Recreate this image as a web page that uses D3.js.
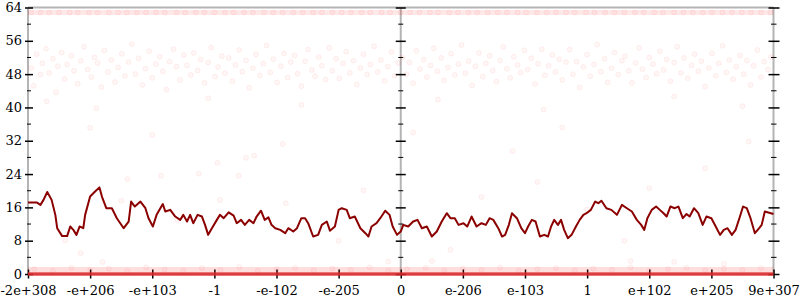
<!DOCTYPE html>
<html>
<head>
<meta charset="utf-8">
<script src="https://cdn.jsdelivr.net/npm/d3@7"></script>
<style>
body { margin: 0; background: #fff; }
svg text { font-family: "DejaVu Serif", serif; font-size: 13px; }
</style>
</head>
<body>
<div id="chart"></div>
<script>
// x positions are in "tick units": -6 .. 6, one unit per labelled tick
var xTickVals = [-6, -5, -4, -3, -2, -1, 0, 1, 2, 3, 4, 5, 6];
var xTickLabels = ["-2e+308", "-e+206", "-e+103", "-1", "-e-102", "-e-205", "0",
    "e-206", "e-103", "1", "e+102", "e+205", "9e+307"];
var yMajor = [0, 8, 16, 24, 32, 40, 48, 56, 64];
var yMinor = [4, 12, 20, 28, 36, 44, 52, 60];

// running average (dark red line)
var avgX = [-6.0, -5.86, -5.80, -5.75, -5.69, -5.62, -5.56, -5.53, -5.45, -5.37, -5.32, -5.27, -5.22, -5.17, -5.11, -5.08,
    -5.00, -4.92, -4.85, -4.81, -4.74, -4.65, -4.57, -4.46, -4.38, -4.34, -4.28, -4.19, -4.11, -4.06, -3.99, -3.93,
    -3.83, -3.79, -3.71, -3.63, -3.55, -3.50, -3.44, -3.39, -3.34, -3.27, -3.20, -3.15, -3.10, -3.04, -2.96, -2.91,
    -2.85, -2.77, -2.69, -2.64, -2.57, -2.51, -2.44, -2.37, -2.32, -2.25, -2.19, -2.13, -2.08, -2.02, -1.94, -1.86,
    -1.81, -1.73, -1.67, -1.60, -1.54, -1.49, -1.41, -1.33, -1.27, -1.19, -1.14, -1.06, -1.00, -0.95, -0.87, -0.82,
    -0.74, -0.65, -0.57, -0.52, -0.47, -0.39, -0.33, -0.25, -0.18, -0.13, -0.06, 0.0, 0.04, 0.12, 0.20, 0.27, 0.34,
    0.42, 0.50, 0.58, 0.66, 0.74, 0.80, 0.87, 0.93, 1.01, 1.07, 1.14, 1.22, 1.30, 1.37, 1.43, 1.49, 1.57, 1.63, 1.68,
    1.74, 1.79, 1.87, 1.94, 2.00, 2.05, 2.11, 2.17, 2.24, 2.31, 2.37, 2.42, 2.47, 2.53, 2.58, 2.63, 2.69, 2.75, 2.82,
    2.88, 2.94, 2.99, 3.06, 3.13, 3.18, 3.23, 3.31, 3.39, 3.48, 3.56, 3.64, 3.72, 3.80, 3.87, 3.92, 3.97, 4.04, 4.11,
    4.17, 4.23, 4.28, 4.34, 4.41, 4.47, 4.54, 4.60, 4.65, 4.72, 4.79, 4.86, 4.92, 5.00, 5.07, 5.14, 5.20, 5.26, 5.33,
    5.39, 5.46, 5.51, 5.57, 5.63, 5.70, 5.77, 5.81, 5.86, 6.0];
var avgY = [17.2, 17.2, 16.6, 17.8, 19.7, 17.8, 14.2, 11.0, 9.1, 9.1, 11.4, 10.6, 9.4, 11.4, 11.0, 14.2,
    18.6, 19.8, 20.8, 18.6, 15.8, 15.8, 13.4, 11.0, 12.6, 17.4, 16.2, 17.4, 15.8, 13.4, 11.4, 14.2,
    16.8, 15.0, 15.4, 13.8, 13.0, 14.2, 12.6, 14.2, 12.2, 14.2, 13.8, 11.8, 9.4, 11.0, 13.0, 14.2,
    13.4, 14.8, 14.0, 12.2, 13.0, 11.8, 13.0, 12.2, 13.8, 15.2, 13.0, 13.6, 11.8, 11.0, 10.6, 9.8,
    11.0, 10.2, 11.0, 13.4, 13.4, 12.2, 9.0, 9.4, 11.8, 12.6, 10.4, 11.4, 15.4, 15.8, 15.4, 13.4,
    13.8, 11.0, 9.8, 9.0, 11.4, 12.2, 13.4, 15.2, 14.2, 11.4, 9.4, 10.2, 11.8, 11.4, 12.6, 13.0, 11.0,
    11.4, 9.0, 10.2, 12.6, 14.6, 13.4, 13.4, 11.8, 12.2, 11.4, 13.8, 11.4, 12.2, 11.8, 13.4, 13.0, 11.0, 9.0, 9.4, 11.8,
    14.6, 13.4, 11.0, 9.8, 11.4, 13.0, 12.6, 9.0, 9.4, 9.0, 11.4, 13.0, 11.8, 13.0, 10.6, 8.6, 9.4, 11.4, 13.0,
    14.2, 14.6, 15.4, 17.4, 17.0, 17.6, 15.8, 15.4, 14.2, 16.6, 15.8, 15.0, 13.0, 11.8, 10.6, 13.4, 15.4, 16.2, 15.4,
    14.6, 13.8, 16.2, 15.8, 16.2, 13.4, 14.4, 13.8, 15.8, 14.6, 11.8, 13.8, 13.4, 11.4, 9.4, 10.6, 11.0, 9.4, 10.6,
    13.8, 16.2, 15.8, 13.4, 9.8, 11.0, 11.8, 15.0, 14.4, 14.4];

// faint scatter: upper cluster
var midPts = [[-5.95, 49.5], [-5.91, 45.2], [-5.86, 52.8], [-5.8, 47.9], [-5.77, 50.6], [-5.71, 54.1], [-5.66, 48.3],
    [-5.6, 51.7], [-5.55, 43.6], [-5.52, 49.9], [-5.46, 53.2], [-5.41, 46.8], [-5.37, 50.3], [-5.3, 52.4], [-5.26, 48.8],
    [-5.2, 45.7], [-5.15, 51.2], [-5.1, 54.6], [-5.04, 49.1], [-4.98, 47.3], [-4.93, 52.0], [-4.88, 50.7], [-4.82, 44.9],
    [-4.77, 53.7], [-4.71, 48.5], [-4.66, 51.4], [-4.6, 46.1], [-4.55, 49.6], [-4.49, 52.9], [-4.44, 47.6], [-4.38, 50.9],
    [-4.33, 55.2], [-4.27, 48.0], [-4.22, 51.8], [-4.16, 45.4], [-4.11, 49.3], [-4.05, 53.5], [-4.0, 47.1], [-3.94, 50.4],
    [-3.88, 52.2], [-3.83, 48.7], [-3.77, 44.3], [-3.72, 51.0], [-3.66, 54.0], [-3.61, 49.8], [-3.55, 46.6], [-3.49, 52.6],
    [-3.44, 50.1], [-3.38, 47.8], [-3.33, 53.1], [-3.27, 48.9], [-3.22, 51.5], [-3.16, 45.9], [-3.1, 50.8], [-3.05, 54.4],
    [-2.99, 47.4], [-2.94, 49.7], [-2.88, 52.3], [-2.83, 48.2], [-2.77, 51.9], [-2.71, 46.3], [-2.66, 50.2], [-2.6, 53.8],
    [-2.55, 48.6], [-2.49, 51.3], [-2.44, 44.7], [-2.38, 49.4], [-2.33, 52.7], [-2.27, 47.7], [-2.21, 50.5], [-2.16, 54.9],
    [-2.1, 48.4], [-2.05, 51.6], [-1.99, 46.0], [-1.93, 49.9], [-1.88, 53.0], [-1.82, 47.2], [-1.77, 50.9], [-1.71, 52.5],
    [-1.66, 48.1], [-1.6, 45.1], [-1.54, 51.1], [-1.49, 53.9], [-1.43, 49.0], [-1.38, 47.5], [-1.32, 52.1], [-1.27, 50.0],
    [-1.21, 46.7], [-1.15, 54.3], [-1.1, 48.8], [-1.04, 51.7], [-0.99, 47.0], [-0.93, 50.6], [-0.88, 53.4], [-0.82, 48.3],
    [-0.76, 51.2], [-0.71, 45.5], [-0.65, 49.5], [-0.6, 52.8], [-0.54, 47.9], [-0.49, 50.3], [-0.43, 54.7], [-0.37, 48.5],
    [-0.32, 51.4], [-0.26, 46.4], [-0.21, 49.8], [-0.15, 53.3], [-0.1, 47.6], [-0.04, 50.7],
    [0.03, 52.0], [0.09, 48.0], [0.14, 50.8], [0.2, 45.8], [0.25, 53.6], [0.31, 49.2], [0.37, 51.5], [0.42, 47.3],
    [0.48, 50.1], [0.53, 54.2], [0.59, 48.7], [0.65, 51.9], [0.7, 46.5], [0.76, 49.6], [0.81, 52.9], [0.87, 47.8],
    [0.93, 50.4], [0.98, 55.0], [1.04, 48.2], [1.09, 51.1], [1.15, 45.3], [1.2, 49.9], [1.26, 53.1], [1.32, 47.4],
    [1.37, 50.6], [1.43, 52.4], [1.48, 48.9], [1.54, 46.2], [1.6, 51.3], [1.65, 54.5], [1.71, 49.3], [1.76, 47.1],
    [1.82, 52.2], [1.88, 50.2], [1.93, 48.4], [1.99, 53.7], [2.04, 49.1], [2.1, 51.8], [2.16, 45.6], [2.21, 50.5],
    [2.27, 54.0], [2.32, 47.7], [2.38, 50.0], [2.44, 52.6], [2.49, 48.5], [2.55, 51.6], [2.6, 46.6], [2.66, 50.9],
    [2.72, 53.9], [2.77, 48.0], [2.83, 51.0], [2.88, 44.8], [2.94, 49.7], [3.0, 52.7], [3.05, 47.5], [3.11, 50.3],
    [3.16, 55.1], [3.22, 48.6], [3.28, 51.7], [3.33, 46.0], [3.39, 49.4], [3.44, 53.2], [3.5, 47.9], [3.56, 51.2],
    [3.61, 52.3], [3.67, 48.8], [3.72, 45.9], [3.78, 50.7], [3.84, 54.3], [3.89, 49.2], [3.95, 47.2], [4.0, 52.0],
    [4.06, 50.4], [4.12, 48.1], [4.17, 53.5], [4.23, 49.0], [4.28, 51.5], [4.34, 46.3], [4.4, 50.8], [4.45, 54.6],
    [4.51, 48.3], [4.56, 51.9], [4.62, 47.0], [4.68, 50.1], [4.73, 52.8], [4.79, 48.7], [4.84, 51.1], [4.9, 45.0],
    [4.96, 49.5], [5.01, 53.0], [5.07, 47.6], [5.12, 50.6], [5.18, 54.8], [5.24, 48.4], [5.29, 51.4], [5.35, 46.8],
    [5.4, 49.8], [5.46, 52.5], [5.52, 48.0], [5.57, 51.3], [5.63, 45.4], [5.68, 50.0], [5.74, 53.8], [5.8, 47.3],
    [5.85, 51.0], [5.91, 49.1], [5.96, 52.1],
    [-5.7, 41.5], [-4.9, 39.8], [-3.1, 42.2], [-1.6, 40.6], [0.6, 41.9], [2.3, 39.5], [4.4, 42.6], [5.5, 40.3]];

// faint scatter: sparse points between the bands
var sparsePts = [[-5.4, 8.1], [-5.15, 5.0], [-4.8, 2.9], [-4.5, 17.6], [-4.4, 22.8], [-3.86, 23.6], [-3.25, 24.1],
    [-2.95, 26.7], [-2.91, 17.8], [-2.61, 23.6], [-2.49, 27.9], [-2.36, 28.4], [-1.85, 17.0], [-5.0, 35.1],
    [-4.0, 33.4], [-1.9, 31.2], [-1.0, 8.0], [-0.2, 3.0], [0.8, 5.8], [0.5, 3.1], [0.2, 34.0], [1.3, 18.5],
    [1.8, 29.5], [2.6, 35.2], [3.7, 3.1], [3.6, 8.0], [4.4, 2.9], [4.9, 25.4], [5.2, 2.4], [5.6, 31.8],
    [-0.6, 20.1], [3.0, 15.5], [2.2, 22.1], [-3.6, 13.0], [4.0, 20.6]];

// top row near 63
var topY = 62.8;
var topX = [-5.95, -5.8, -5.66, -5.5, -5.33, -5.2, -5.02, -4.88, -4.7, -4.55, -4.41, -4.25, -4.1, -3.94, -3.8, -3.61,
    -3.47, -3.3, -3.16, -3.0, -2.83, -2.69, -2.52, -2.38, -2.2, -2.05, -1.9, -1.73, -1.58, -1.41, -1.27, -1.1, -0.95,
    -0.8, -0.63, -0.49, -0.31, -0.17, 0.0, 0.15, 0.3, 0.47, 0.6, 0.78, 0.92, 1.09, 1.23, 1.4, 1.56, 1.71, 1.88, 2.02,
    2.19, 2.35, 2.5, 2.66, 2.8, 2.98, 3.12, 3.29, 3.44, 3.6, 3.77, 3.91, 4.08, 4.22, 4.4, 4.55, 4.7, 4.86, 5.01, 5.18,
    5.33, 5.49, 5.64, 5.8, 5.95];

// low row just above zero
var lowY = 1.1;
var lowPts = [[-5.9, 1.2], [-5.6, 0.8], [-5.3, 1.5], [-5.0, 1.0], [-4.7, 1.3], [-4.4, 0.7], [-4.1, 1.6], [-3.8, 1.1],
    [-3.5, 0.9], [-3.2, 1.4], [-2.9, 1.0], [-2.6, 1.7], [-2.3, 0.8], [-2.0, 1.2], [-1.7, 1.5], [-1.4, 0.9],
    [-1.1, 1.3], [-0.8, 1.0], [-0.5, 1.6], [-0.2, 0.8], [0.1, 1.2], [0.4, 1.5], [0.7, 0.9], [1.0, 1.3],
    [1.3, 1.0], [1.6, 1.6], [1.9, 0.8], [2.2, 1.2], [2.5, 1.4], [2.8, 0.9], [3.1, 1.3], [3.4, 1.0],
    [3.7, 1.6], [4.0, 0.8], [4.3, 1.2], [4.6, 1.5], [4.9, 0.9], [5.2, 1.3], [5.5, 1.0], [5.8, 1.4]];

// solid row at zero spans the full range
var zeroY = 0;
var zeroSpan = [-6, 6];

var width = 800, height = 300;
var svg = d3.select("#chart").append("svg").attr("width", width).attr("height", height);

var x = d3.scaleLinear().domain([-6, 6]).range([28, 773.5]);
var y = d3.scaleLinear().domain([0, 64]).range([274, 7.5]);

var axisGray = "#b4b4b4";

// frame lines
svg.append("line").attr("x1", x(-6)).attr("x2", x(6)).attr("y1", y(64)).attr("y2", y(64))
    .attr("stroke", axisGray).attr("stroke-width", 2);
svg.append("line").attr("x1", x(-6)).attr("x2", x(6)).attr("y1", y(0)).attr("y2", y(0))
    .attr("stroke", axisGray).attr("stroke-width", 2);
[-6, 0, 6].forEach(function (v) {
    svg.append("line").attr("x1", x(v)).attr("x2", x(v)).attr("y1", y(0)).attr("y2", y(64))
        .attr("stroke", axisGray).attr("stroke-width", 2);
});

// vertical axes ticks (left, centre, right)
function vTicks(xPos, majIn, majOut, minIn, minOut, labels) {
    var g = svg.append("g").attr("transform", "translate(" + xPos + ",0)");
    var ax = d3.axisLeft(y).tickValues(yMajor).tickSize(0).tickPadding(6);
    g.call(ax);
    g.select(".domain").remove();
    g.selectAll(".tick line").attr("x1", -majOut).attr("x2", majIn).attr("stroke", "#000").attr("stroke-width", 1.5);
    if (labels) {
        g.selectAll(".tick text").attr("x", -6).attr("fill", "#000")
            .style("font-family", "'DejaVu Serif', serif").style("font-size", "13px");
    } else {
        g.selectAll(".tick text").remove();
    }
    g.selectAll(".minor").data(yMinor).enter().append("line")
        .attr("x1", -minOut).attr("x2", minIn)
        .attr("y1", function (d) { return y(d); }).attr("y2", function (d) { return y(d); })
        .attr("stroke", "#000").attr("stroke-width", 1);
}
vTicks(x(-6), 5, 3, 3, 1, true);
vTicks(x(0), 5, 5, 2.5, 2.5, false);
vTicks(x(6), 6, 5, 3, 2.5, false);

// bottom axis
var gx = svg.append("g").attr("transform", "translate(0," + y(0) + ")")
    .call(d3.axisBottom(x).tickValues(xTickVals).tickFormat(function (d, i) { return xTickLabels[i]; })
        .tickSize(0).tickPadding(12));
gx.select(".domain").remove();
gx.selectAll(".tick line").attr("y1", -4.5).attr("y2", 4.5).attr("stroke", "#000").attr("stroke-width", 1.5);
gx.selectAll(".tick text").attr("fill", "#000")
    .style("font-family", "'DejaVu Serif', serif").style("font-size", "13px");

// bands
svg.append("line").attr("x1", x(zeroSpan[0])).attr("x2", x(zeroSpan[1]))
    .attr("y1", y(topY)).attr("y2", y(topY))
    .attr("stroke", "red").attr("stroke-opacity", 0.09).attr("stroke-width", 5);
svg.append("line").attr("x1", x(zeroSpan[0])).attr("x2", x(zeroSpan[1]))
    .attr("y1", y(lowY)).attr("y2", y(lowY))
    .attr("stroke", "red").attr("stroke-opacity", 0.13).attr("stroke-width", 5);

function dots(data, cls) {
    svg.append("g").selectAll("circle." + cls).data(data).enter().append("circle")
        .attr("class", cls)
        .attr("cx", function (d) { return x(d[0]); })
        .attr("cy", function (d) { return y(d[1]); })
        .attr("r", 2.5)
        .attr("fill", "red").attr("fill-opacity", 0.035)
        .attr("stroke", "red").attr("stroke-opacity", 0.06).attr("stroke-width", 1);
}
dots(topX.map(function (v) { return [v, topY]; }), "top");
dots(midPts, "mid");
dots(sparsePts, "sparse");
dots(lowPts, "low");

svg.append("line").attr("x1", x(zeroSpan[0])).attr("x2", x(zeroSpan[1]))
    .attr("y1", y(zeroY)).attr("y2", y(zeroY))
    .attr("stroke", "#e02828").attr("stroke-opacity", 0.85).attr("stroke-width", 3.5);

// running average line
var avgData = avgX.map(function (v, i) { return { x: v, y: avgY[i] }; });
svg.append("path").datum(avgData)
    .attr("fill", "none").attr("stroke", "#8b0000").attr("stroke-width", 2)
    .attr("stroke-linejoin", "round")
    .attr("d", d3.line().x(function (d) { return x(d.x); }).y(function (d) { return y(d.y); }));
</script>
</body>
</html>
